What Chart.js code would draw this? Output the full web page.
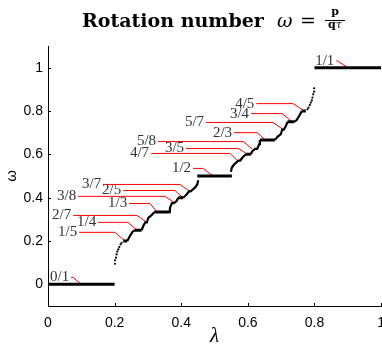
<!DOCTYPE html>
<html><head><meta charset="utf-8">
<script src="https://cdn.jsdelivr.net/npm/chart.js@4/dist/chart.umd.min.js"></script>
<style>
html,body{margin:0;padding:0;background:#fff;overflow:hidden}
#wrap{position:relative;width:382px;height:349px;overflow:hidden}
canvas{position:absolute;left:0;top:0}
.t{position:absolute;white-space:nowrap;color:#000;font-family:"DejaVu Serif","Liberation Serif",serif}
</style></head><body>
<div id="wrap">
<canvas id="c" width="394" height="349"></canvas>
<div class="t" style="left:82px;top:11px;font-size:19px;line-height:19px;font-weight:bold">Rotation number</div>
<div class="t" style="left:277px;top:11px;font-size:19px;line-height:19px;font-style:italic">ω</div>
<div class="t" style="left:300px;top:11px;font-size:19px;line-height:19px">=</div>
<div class="t" style="left:325px;top:6px;width:20px;text-align:center;font-size:11px;line-height:11px;font-weight:bold">p</div>
<div style="position:absolute;left:325px;top:20px;width:20px;height:1px;background:#000"></div>
<div class="t" style="left:325px;top:19px;width:20px;text-align:center;font-size:11px;line-height:11px"><b>q</b><i>τ</i></div>
</div>
<script>
// axis ticks
const ticksX = [0, 0.2, 0.4, 0.6, 0.8, 1];
const ticksY = [0, 0.2, 0.4, 0.6, 0.8, 1];

// mode-locking plateaus (lambda start, lambda end, omega)
const plateauStart = [0, 0.226, 0.261, 0.319, 0.391, 0.448, 0.594, 0.636, 0.719, 0.762, 0.8];
const plateauEnd   = [0.2, 0.238, 0.281, 0.364, 0.406, 0.552, 0.609, 0.681, 0.739, 0.774, 1.0];
const plateauOmega = [0, 0.2, 0.25, 0.3333, 0.4, 0.5, 0.6, 0.6667, 0.75, 0.8, 1];

// staircase pieces between plateaus (null = break)
const curveLambda = [0.238,0.246,0.254,0.261, null,
  0.281,0.286,0.292,0.297,0.301,0.311,0.319, null,
  0.364,0.366,0.372,0.378,0.386,0.391, null,
  0.406,0.416,0.423,0.428,0.441,0.448,0.451, null,
  0.549,0.552,0.559,0.572,0.577,0.584,0.594, null,
  0.609,0.614,0.622,0.628,0.634,0.636, null,
  0.681,0.689,0.699,0.703,0.708,0.714,0.719, null,
  0.739,0.746,0.754,0.762];
const curveOmega = [0.2,0.223,0.243,0.25, null,
  0.25,0.269,0.286,0.2857,0.307,0.319,0.3333, null,
  0.3333,0.353,0.375,0.375,0.384,0.4, null,
  0.4,0.415,0.4286,0.4286,0.446,0.461,0.48, null,
  0.52,0.539,0.554,0.5714,0.5714,0.585,0.6, null,
  0.6,0.616,0.625,0.625,0.647,0.6667, null,
  0.6667,0.681,0.693,0.7143,0.7143,0.731,0.75, null,
  0.75,0.757,0.777,0.8];

// sparse dots at the steep ends
const dotLambda = [0.201,0.201,0.204,0.206,0.208,0.211,0.214,0.218,0.221,
                   0.779,0.782,0.786,0.789,0.792,0.794,0.796,0.799,0.799];
const dotOmega  = [0.095,0.111,0.123,0.138,0.151,0.161,0.172,0.184,0.192,
                   0.808,0.816,0.828,0.839,0.849,0.862,0.877,0.889,0.905];

// fraction labels: text position, knee of red leader, target point
const labelText = ['0/1','1/5','1/4','2/7','1/3','3/8','2/5','3/7','1/2','4/7','3/5','5/8','2/3','5/7','3/4','4/5','1/1'];
const labelX    = [0.006,0.030,0.087,0.012,0.180,0.027,0.162,0.102,0.372,0.246,0.351,0.267,0.495,0.411,0.546,0.562,0.802];
const labelY    = [0.032,0.240,0.286,0.318,0.373,0.406,0.433,0.461,0.535,0.604,0.627,0.659,0.700,0.747,0.788,0.834,1.032];
const labelKnee = [0.075,0.201,0.240,0.267,0.306,0.351,0.381,0.396,0.465,0.547,0.571,0.586,0.628,0.676,0.703,0.736,0.868];
const targetX   = [0.100,0.231,0.267,0.297,0.328,0.381,0.405,0.426,0.495,0.568,0.600,0.613,0.652,0.706,0.733,0.769,0.900];
const targetY   = [0,0.2,0.25,0.2857,0.3333,0.375,0.4,0.4286,0.5,0.5714,0.6,0.625,0.6667,0.7143,0.75,0.8,1];

const plateauData = [];
plateauStart.forEach((s, i) => {
  plateauData.push({x: s, y: plateauOmega[i]}, {x: plateauEnd[i], y: plateauOmega[i]}, {x: plateauEnd[i], y: null});
});
const curveData = curveLambda.map((l, i) => ({x: l === null ? 0.5 : l, y: curveOmega[i]}));
const dotData = dotLambda.map((l, i) => ({x: l, y: dotOmega[i]}));

const labelPlugin = {
  id: 'fracLabels',
  beforeDatasetsDraw(chart) {
    const {ctx, scales: {x, y}} = chart;
    ctx.save();
    ctx.font = '15px "Liberation Serif", serif';
    ctx.textBaseline = 'middle';
    labelText.forEach((t, i) => {
      const px = x.getPixelForValue(labelX[i]);
      const py = y.getPixelForValue(labelY[i]);
      ctx.fillStyle = '#333';
      ctx.fillText(t, px, py);
      const w = ctx.measureText(t).width;
      const kx = x.getPixelForValue(labelKnee[i]);
      const sx = Math.min(px + w + 2, kx);
      ctx.strokeStyle = '#ff0000';
      ctx.lineWidth = 1;
      ctx.beginPath();
      ctx.moveTo(sx, py);
      ctx.lineTo(kx, py);
      ctx.lineTo(x.getPixelForValue(targetX[i]), y.getPixelForValue(targetY[i]));
      ctx.stroke();
    });
    ctx.restore();
  }
};

const tickPlugin = {
  id: 'inTicks',
  afterDraw(chart) {
    const {ctx, scales: {x, y}, chartArea: a} = chart;
    ctx.save();
    ctx.strokeStyle = '#000';
    ctx.lineWidth = 1;
    ctx.beginPath();
    ticksX.forEach(v => { const p = Math.round(x.getPixelForValue(v)) + 0.5; ctx.moveTo(p, a.bottom); ctx.lineTo(p, a.bottom - 3); });
    ticksY.forEach(v => { const p = Math.round(y.getPixelForValue(v)) + 0.5; ctx.moveTo(a.left, p); ctx.lineTo(a.left + 3, p); });
    ctx.stroke();
    ctx.restore();
  }
};

new Chart(document.getElementById('c'), {
  type: 'line',
  data: {
    datasets: [
      {data: plateauData, borderColor: '#000', borderWidth: 3, pointRadius: 0, spanGaps: false, borderCapStyle: 'butt'},
      {data: curveData, borderColor: '#000', borderWidth: 2.2, pointRadius: 0, spanGaps: false},
      {data: dotData, showLine: false, pointRadius: 1.1, pointBackgroundColor: '#000', pointBorderWidth: 0}
    ]
  },
  options: {
    responsive: false,
    animation: false,
    parsing: true,
    layout: {padding: {top: 46, right: 1, bottom: 0, left: 0}, autoPadding: false},
    plugins: {legend: {display: false}, tooltip: {enabled: false}},
    scales: {
      x: {
        type: 'linear', min: 0, max: 1,
        afterBuildTicks: s => { s.ticks = ticksX.map(v => ({value: v})); },
        afterFit: s => { s.height = 43; },
        grid: {display: false, drawTicks: false},
        border: {display: true, color: '#000', width: 1},
        ticks: {color: '#000', padding: 9, maxRotation: 0, font: {family: '"Liberation Sans", Arial, sans-serif', size: 14}, callback: v => String(v)},
        title: {display: true, text: 'λ', color: '#000', padding: 0, font: {family: '"Liberation Serif", serif', style: 'italic', size: 21}}
      },
      y: {
        type: 'linear', min: -0.1, max: 1.1,
        afterBuildTicks: s => { s.ticks = ticksY.map(v => ({value: v})); },
        afterFit: s => { s.width = 48; },
        grid: {display: false, drawTicks: false},
        border: {display: true, color: '#000', width: 1},
        ticks: {color: '#000', padding: 5, font: {family: '"Liberation Sans", Arial, sans-serif', size: 14}, callback: v => String(v)},
        title: {display: true, text: 'ω', color: '#000', padding: 3, font: {family: '"Liberation Sans", Arial, sans-serif', size: 15}}
      }
    }
  },
  plugins: [labelPlugin, tickPlugin]
});
</script>
</body></html>
